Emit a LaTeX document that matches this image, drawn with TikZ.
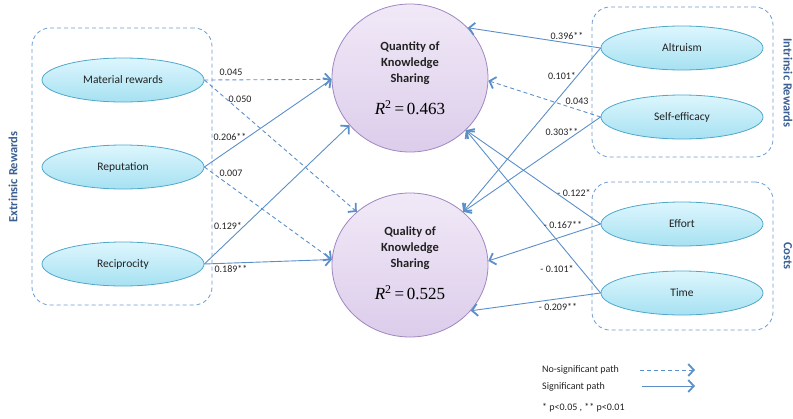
\documentclass[tikz,border=0pt]{standalone}
\usepackage{fontspec}
\setmainfont{Carlito}
\newfontfamily\rsqfont{Liberation Serif}
\usetikzlibrary{arrows.meta,shapes.geometric}

\definecolor{pathblue}{HTML}{5B8FC9}
\definecolor{boxblue}{HTML}{6C9BD2}
\definecolor{sideblue}{HTML}{3B5F92}
\definecolor{ellTop}{HTML}{DDF6FD}
\definecolor{ellBot}{HTML}{A6E1F2}
\definecolor{ellLine}{HTML}{4FA8CB}
\definecolor{cirTop}{HTML}{F1E9F7}
\definecolor{cirBot}{HTML}{DCCDEB}
\definecolor{cirLine}{HTML}{9E86C0}
\definecolor{txt}{HTML}{222222}

\tikzset{
  construct/.style={ellipse, draw=ellLine, line width=0.8pt, top color=ellTop, bottom color=ellBot,
    minimum width=162pt, minimum height=44pt, inner sep=0pt, font=\fontsize{11.5}{13}\selectfont, text=txt},
  outcome/.style={ellipse, draw=cirLine, line width=0.8pt, top color=cirTop, bottom color=cirBot,
    minimum width=156pt, inner sep=0pt},
  outtitle/.style={align=center, font=\fontsize{12.5}{16}\selectfont\bfseries, text=txt},
  rsq/.style={font=\fontsize{17}{19}\selectfont\rsqfont, text=black},
  group/.style={draw=boxblue, line width=0.8pt, dash pattern=on 4pt off 3pt, rounded corners=18pt, inner sep=0pt},
  side/.style={font=\fontsize{12.5}{14}\selectfont\bfseries, text=sideblue},
  coef/.style={font=\fontsize{10}{11}\selectfont, text=txt, inner sep=0pt},
  legtxt/.style={font=\fontsize{10}{11}\selectfont, text=txt, inner sep=0pt, anchor=west},
  sigpath/.style={draw=pathblue, line width=0.9pt,
    -{Straight Barb[length=5.5pt,width=12pt,line width=1.8pt]}},
  nsigpath/.style={sigpath, dash pattern=on 4pt off 3pt},
}

\begin{document}
\begin{tikzpicture}[x=1pt,y=-1pt]
\useasboundingbox (0,0) rectangle (793,418);

% group frames
\node[group, minimum width=180pt, minimum height=277pt] (gext) at (122,166.5) {};
\node[group, minimum width=181pt, minimum height=150pt] (gint) at (682.5,82) {};
\node[group, minimum width=181pt, minimum height=148pt] (gcost) at (682.5,256) {};

\node[side, rotate=90] (lext) at (13,177) {Extrinsic Rewards};
\node[side, rotate=-90] (lint) at (788,83) {Intrinsic Rewards};
\node[side, rotate=-90] (lcost) at (788,256) {Costs};

% antecedent constructs
\node[construct] (mat) at (123,80) {Material rewards};
\node[construct] (rep) at (123,167) {Reputation};
\node[construct] (rec) at (123,264) {Reciprocity};
\node[construct] (alt) at (682,48) {Altruism};
\node[construct] (slf) at (682,117) {Self-efficacy};
\node[construct] (eff) at (682,224) {Effort};
\node[construct] (tim) at (682,293) {Time};

% outcome constructs
\node[outcome, minimum height=148pt] (qn) at (410,78) {};
\node[outcome, minimum height=144pt] (ql) at (410,265) {};
\node[outtitle] (qnt) at (410,63) {Quantity of\\Knowledge\\Sharing};
\node[rsq] (qnr) at (410,108) {{\itshape R}\textsuperscript{2}\,=\,0.463};
\node[outtitle] (qlt) at (410,248) {Quality of\\Knowledge\\Sharing};
\node[rsq] (qlr) at (410,293) {{\itshape R}\textsuperscript{2}\,=\,0.525};

% extrinsic paths
\draw[nsigpath] (mat.east) -- (qn.181);
\draw[nsigpath] (mat.east) -- (ql.135);
\draw[sigpath] (rep.east) -- (qn.181);
\draw[nsigpath] (rep.east) -- (ql.176);
\draw[sigpath] (rec.east) -- (qn.218);
\draw[sigpath] (rec.east) -- (ql.176);

% intrinsic paths
\draw[sigpath] (alt.west) -- (qn.41);
\draw[sigpath] (alt.west) -- (ql.45);
\draw[nsigpath] (slf.west) -- (qn.358);
\draw[sigpath] (slf.west) -- (ql.45);

% cost paths
\draw[sigpath] (eff.west) -- (qn.317);
\draw[sigpath] (eff.west) -- (ql.3);
\draw[sigpath] (tim.west) -- (qn.317);
\draw[sigpath] (tim.west) -- (ql.323);

% path coefficients
\node[coef] (c1) at (231,72) {0.045};
\node[coef] (c2) at (240,99) {0.050};
\node[coef] (c3) at (230,137) {0.206**};
\node[coef] (c4) at (231,173) {0.007};
\node[coef] (c5) at (228,226) {0.129*};
\node[coef] (c6) at (231,269) {0.189**};
\node[coef] (c7) at (567,36) {0.396**};
\node[coef] (c8) at (562,76) {0.101*};
\node[coef] (c9) at (577,101) {0.043};
\node[coef] (c10) at (562,132) {0.303**};
\node[coef] (c11) at (574,193) {- 0.122*};
\node[coef] (c12) at (563,225) {- 0.167**};
\node[coef] (c13) at (557,269) {- 0.101*};
\node[coef] (c14) at (558,307) {- 0.209**};

% legend
\node[legtxt] (lg1) at (542,370) {No-significant path};
\node[legtxt] (lg2) at (542,387) {Significant path};
\node[legtxt] (lg3) at (542,408) {* p<0.05 , ** p<0.01};
\coordinate (la1) at (640,370);
\coordinate (lb1) at (695,370);
\coordinate (la2) at (642,386);
\coordinate (lb2) at (695,386);
\draw[nsigpath] (la1) -- (lb1);
\draw[sigpath] (la2) -- (lb2);
\end{tikzpicture}
\end{document}
